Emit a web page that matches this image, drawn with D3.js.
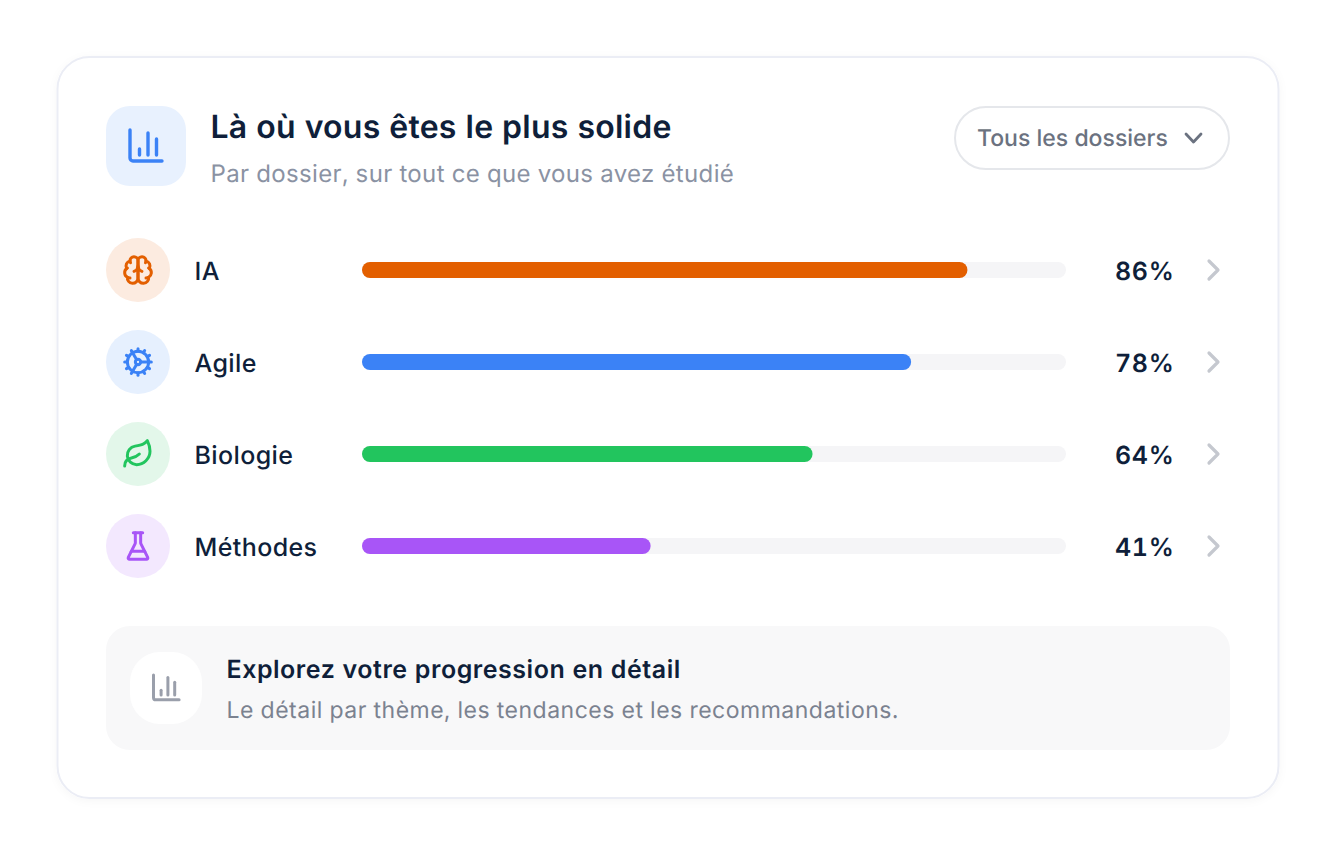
<!DOCTYPE html>
<html lang="fr"><head><meta charset="utf-8">
<script src="https://cdnjs.cloudflare.com/ajax/libs/d3/7.8.5/d3.min.js"></script>
<style>html,body{margin:0;padding:0;background:#fff}svg{display:block}text{font-family:Inter,"Noto Sans",sans-serif;text-rendering:geometricPrecision;font-variant-numeric:tabular-nums}</style>
</head><body><svg id="c" width="1336" height="856"></svg>
<script>
const categories=["IA","Agile","Biologie","Méthodes"];
const percentages=[86,78,64,41];
const barColors=["#e35f00","#3b82f6","#22c55e","#a855f7"];
const tintColors=["#fcebe0","#e6f0fe","#e3f7ea","#f3e8fe"];
const iconNames=["brain","cog","leaf","flask"];
const title="Là où vous êtes le plus solide";
const subtitle="Par dossier, sur tout ce que vous avez étudié";
const filterLabel="Tous les dossiers";
const footerTitle="Explorez votre progression en détail";
const footerText="Le détail par thème, les tendances et les recommandations.";

const glyphs={
 brain:["M12 5a3 3 0 1 0-5.997.125 4 4 0 0 0-2.526 5.77 4 4 0 0 0 .556 6.588A4 4 0 1 0 12 18Z","M12 5a3 3 0 1 1 5.997.125 4 4 0 0 1 2.526 5.77 4 4 0 0 1-.556 6.588A4 4 0 1 1 12 18Z","M15 13a4.5 4.5 0 0 1-3-4 4.5 4.5 0 0 1-3 4","M17.599 6.5a3 3 0 0 0 .399-1.375","M6.003 5.125A3 3 0 0 0 6.401 6.5","M3.477 10.896a4 4 0 0 1 .585-.396","M19.938 10.5a4 4 0 0 1 .585.396","M6 18a4 4 0 0 1-1.967-.516","M19.967 17.484A4 4 0 0 1 18 18"],
 cog:["M12 20a8 8 0 1 0 0-16 8 8 0 0 0 0 16Z","M12 14a2 2 0 1 0 0-4 2 2 0 0 0 0 4Z","M12 2v2","M12 22v-2","m17 20.66-1-1.73","M11 10.27 7 3.34","m20.66 17-1.73-1","m3.34 7 1.73 1","M14 12h8","M2 12h2","m20.66 7-1.73 1","m3.34 17 1.73-1","m17 3.34-1 1.73","M11 13.73l-4 6.93"],
 leaf:["M11 20A7 7 0 0 1 9.8 6.1C15.5 5 17 4.48 19 2c1 2 2 4.18 2 8 0 5.5-4.78 10-10 10Z","M2 21c0-3 1.85-5.36 5.08-6C9.5 14.52 12 13 13 12"],
 flask:["M10 2v7.527a2 2 0 0 1-.211.896L4.72 20.55a1 1 0 0 0 .9 1.45h12.76a1 1 0 0 0 .9-1.45l-5.069-10.127A2 2 0 0 1 14 9.527V2","M8.5 2h7","M7 16h10"],
 chart:["M0 0V28a3 3 0 0 0 3 3H32","M9.5 19V25","M18 3V25","M26.5 9V25"]
};

const svg=d3.select("#c");
const defs=svg.append("defs");
const f=defs.append("filter").attr("id","sh").attr("x","-5%").attr("y","-5%").attr("width","110%").attr("height","110%");
f.append("feDropShadow").attr("dx",0).attr("dy",2).attr("stdDeviation",4).attr("flood-color","#1e293b").attr("flood-opacity",0.035);

function rect(g,x,y,w,h,r,fill,stroke,sw){return g.append("rect").attr("x",x).attr("y",y).attr("width",w).attr("height",h).attr("rx",r).attr("fill",fill).attr("stroke",stroke||"none").attr("stroke-width",sw||0);}
function label(g,x,y,s,size,weight,fill,anchor,ls){return g.append("text").attr("x",x).attr("y",y).text(s).attr("font-size",size).attr("font-weight",weight).attr("fill",fill).attr("text-anchor",anchor||"start").attr("letter-spacing",ls||0);}
function icon(g,name,tx,ty,k,color,sw){const i=g.append("g").attr("transform",`translate(${tx},${ty}) scale(${k})`).attr("fill","none").attr("stroke",color).attr("stroke-width",sw/k).attr("stroke-linecap","round").attr("stroke-linejoin","round");
 glyphs[name].forEach(d=>i.append("path").attr("d",d));return i;}

rect(svg,57.5,57,1221,741,32,"#fff","#ebedf5",2).attr("filter","url(#sh)");

// header
rect(svg,106,106,80,80,24,"#e8f1fe");
icon(svg,"chart",130,130,1,"#3b82f6",3.4);
label(svg,210.5,138,title,32,600,"#0f1f3a","start",0.24);
label(svg,210.5,182,subtitle,24,400,"#8a92a3","start",0.36);
rect(svg,955,107,274,62,31,"#fff","#e5e7eb",2);
label(svg,977,146,filterLabel,23,500,"#6b7280");
svg.append("path").attr("d",d3.line()([[1186,134],[1193.5,142],[1201,134]])).attr("fill","none").attr("stroke","#6b7280").attr("stroke-width",2.8).attr("stroke-linecap","round").attr("stroke-linejoin","round");

// rows
const y=d3.scalePoint().domain(categories).range([270,546]);
const x=d3.scaleLinear().domain([0,100]).range([362,1066]);
const rows=svg.selectAll("g.row").data(categories).join("g").attr("class","row");
rows.each(function(c,i){
 const g=d3.select(this),cy=y(c);
 g.append("circle").attr("cx",138).attr("cy",cy).attr("r",32).attr("fill",tintColors[i]);
 icon(g,iconNames[i],122,cy-16,32/24,barColors[i],3);
 label(g,194.5,cy+10,c,25,500,"#0f1f3a","start",0.4);
 rect(g,x(0),cy-8,x(100)-x(0),16,8,"#f5f5f7");
 rect(g,x(0),cy-8,x(percentages[i])-x(0),16,8,barColors[i]);
 label(g,1174.5,cy+10,percentages[i]+"%",25,600,"#0f1f3a","end",0.7);
 g.append("path").attr("d",d3.line()([[1209,cy-9],[1218,cy],[1209,cy+9]])).attr("fill","none").attr("stroke","#c5c8cf").attr("stroke-width",3.2).attr("stroke-linecap","round").attr("stroke-linejoin","round");
});

// footer
rect(svg,106,626,1124,124,24,"#f8f8f9");
rect(svg,130,652,72,72,30,"#fff");
icon(svg,"chart",153.5,675,0.8,"#9a9fab",3);
label(svg,226.5,678,footerTitle,25,600,"#0f1f3a","start",0.53);
label(svg,226.5,718,footerText,23,400,"#7b8290","start",0.5);
</script></body></html>
